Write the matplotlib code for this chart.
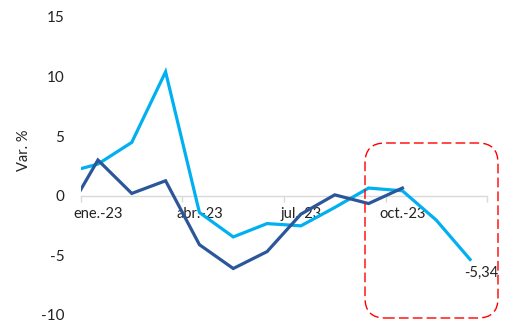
import matplotlib
matplotlib.use("Agg")
import matplotlib.pyplot as plt
from matplotlib.patches import FancyBboxPatch

# monthly variation, dic.-22 .. dic.-23 (first point sits outside the axis)
months = ["dic.-22", "ene.-23", "feb.-23", "mar.-23", "abr.-23", "may.-23", "jun.-23",
          "jul.-23", "ago.-23", "sep.-23", "oct.-23", "nov.-23", "dic.-23"]
light_vals = [1.9, 2.66, 4.48, 10.4, -1.4, -3.45, -2.33, -2.52, -0.98, 0.65, 0.42, -2.04, -5.34]
dark_vals = [-1.9, 3.0, 0.2, 1.26, -4.1, -6.1, -4.68, -1.54, 0.08, -0.65, 0.65]
tick_labels = ["ene.-23", "abr.-23", "jul.-23", "oct.-23"]
last_label = "-5,34"

plt.rcParams['font.family'] = ['Lato', 'DejaVu Sans']

fig = plt.figure(figsize=(5.07, 3.22), dpi=100)
ax = fig.add_axes([81/507, 1-315/322, 406/507, 298/322])

xs = list(range(-1, len(light_vals) - 1))
ax.plot(xs, light_vals, color='#00B0F0', lw=2.3, solid_joinstyle='miter', zorder=2)
ax.plot(xs[:len(dark_vals)], dark_vals, color='#2B579A', lw=2.3, solid_joinstyle='miter', zorder=3)

ax.set_xlim(-0.5, 11.5)
ax.set_ylim(-10, 15)
ax.set_yticks([-10, -5, 0, 5, 10, 15])
ax.set_yticklabels(["-10", "-5", "0", "5", "10", "15"])

for s in ['top', 'right', 'left']:
    ax.spines[s].set_visible(False)
ax.spines['bottom'].set_position(('data', 0))
ax.spines['bottom'].set_color('#D9D9D9')
ax.spines['bottom'].set_linewidth(1)
ax.spines['bottom'].set_zorder(1)

ax.set_xticks([0, 3, 6, 9])
ax.set_xticklabels(tick_labels)
ax.set_xticks([-0.5, 2.5, 5.5, 8.5, 11.5], minor=True)
ax.tick_params(axis='x', which='major', length=0, pad=8, labelsize=10.5, colors='#222222')
ax.tick_params(axis='x', which='minor', length=4, color='#D9D9D9', width=1)
ax.tick_params(axis='y', length=0, pad=12, labelsize=11, colors='#222222')

ax.set_ylabel("Var. %", fontsize=10.5, color='#222222')
ax.yaxis.set_label_coords(-0.124, 0.554)

ax.text(11.32, -6.47, last_label, ha='center', va='center', fontsize=10.5, color='#222222')

box = FancyBboxPatch((3.65, 0.04), 1.33, 1.75,
                     boxstyle="round,pad=0,rounding_size=0.2",
                     transform=fig.dpi_scale_trans, fill=False,
                     edgecolor='#FF0000', lw=1, linestyle=(0, (7, 3)))
fig.patches.append(box)

fig.savefig("out.png", dpi=100)
